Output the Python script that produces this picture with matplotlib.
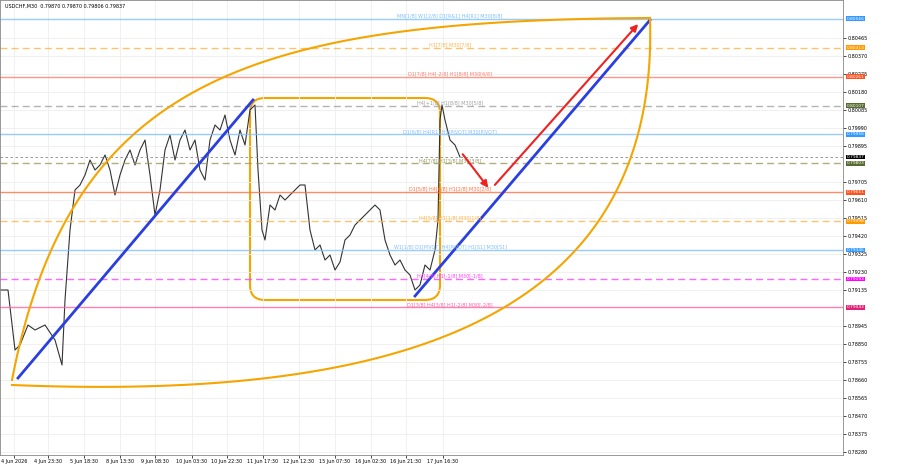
import numpy as np
import matplotlib.pyplot as plt
from matplotlib.patches import FancyBboxPatch
from math import comb

# price scale
P_TOP, P_PER_PX = 0.80666, 0.0000528
def px_to_price(y):
    return P_TOP - P_PER_PX * np.asarray(y, dtype=float)

def bezier(pts, n=100):
    pts = np.asarray(pts, dtype=float)
    t = np.linspace(0, 1, n)[:, None]
    k = len(pts) - 1
    return sum(comb(k, i) * (1 - t) ** (k - i) * t ** i * pts[i] for i in range(k + 1))

# price path (bar index, price level)
bar_x = [0, 8, 15, 20, 28, 35, 45, 55, 62, 65, 70, 75, 80, 85, 90, 95, 100, 105, 110, 115, 120, 125,
         130, 135, 140, 145, 150, 155, 160, 165, 170, 175, 180, 185, 190, 195, 200, 205, 210, 215, 220,
         225, 230, 235, 240, 245, 250, 255, 258, 262, 265, 270, 275, 280, 285, 290, 295, 300, 305, 310,
         315, 320, 325, 330, 335, 340, 345, 350, 355, 360, 365, 370, 375, 380, 385, 390, 395, 400, 405,
         410, 415, 420, 425, 430, 435, 438, 440, 442, 445, 450, 455, 460]
bar_px = [290, 290, 350, 345, 325, 330, 325, 340, 365, 300, 230, 190, 185, 175, 160, 170, 165, 155, 170,
          195, 175, 160, 150, 165, 150, 140, 175, 215, 190, 150, 135, 160, 140, 130, 150, 140, 170, 180,
          140, 125, 130, 115, 140, 155, 130, 145, 110, 105, 170, 230, 240, 205, 210, 195, 200, 195, 190,
          185, 185, 230, 250, 245, 260, 255, 270, 262, 240, 235, 225, 220, 215, 210, 205, 210, 240, 255,
          265, 260, 270, 275, 290, 285, 265, 270, 250, 220, 120, 105, 120, 140, 145, 157]
prices = px_to_price(bar_px)

level_prices = [0.80566, 0.80413, 0.80261, 0.80107, 0.79956, 0.79803, 0.79651, 0.79498, 0.79346, 0.79193, 0.79043]
level_labels = ["MN[1/8] W1[2/8] D1[R&1] H4[R1] M30[8/8]", "H1[7/8] M30[7/8]",
                "D1[7/8] H4[-2/8] H1[8/8] M30[6/8]", "H4[+1/8] H1[8/8] M30[5/8]",
                "D1[6/8] H4[R1] H1[PIVOT] M30[PIVOT]", "H4[7/8] H1[3/8] M30[3/8]",
                "D1[5/8] H4[6/8] H1[2/8] M30[2/8]", "H4[5/8] H1[1/8] M30[1/8]",
                "W1[1/8] D1[PIVOT] H4[PIVOT] H1[S1] M30[S1]", "H4[4/8] H1[-1/8] M30[-1/8]",
                "D1[3/8] H4[3/8] H1[-2/8] M30[-2/8]"]
level_colors = ["#7fbfff", "#ffb347", "#ff7f6e", "#a0a0a0", "#7fbfff", "#9a9a60",
                "#ff7040", "#ffb347", "#7fbfff", "#ff40ff", "#ff60a0"]
level_tags = ["#3399ff", "#ff9900", "#ff5020", "#556b2f", "#3399ff", "#556b2f",
              "#ff5020", "#ff9900", "#3399ff", "#ff00ff", "#e0207a"]
level_dash = [False, True, False, True, False, True, False, True, False, True, False]
last_price = 0.79837

tick_pos = [14, 48, 84, 120, 155, 192, 227, 263, 299, 335, 371, 406, 443]
tick_labels = ["4 Jun 2026", "4 Jun 23:30", "5 Jun 18:30", "8 Jun 13:30", "9 Jun 08:30", "10 Jun 03:30",
               "10 Jun 22:30", "11 Jun 17:30", "12 Jun 12:30", "15 Jun 07:30", "16 Jun 02:30",
               "16 Jun 21:30", "17 Jun 16:30"]
axis_prices = [0.80465, 0.80370, 0.80275, 0.80180, 0.80085, 0.79990, 0.79895, 0.79705, 0.79610, 0.79515,
               0.79420, 0.79325, 0.79230, 0.79135, 0.78945, 0.78850, 0.78755, 0.78660, 0.78565, 0.78470,
               0.78375, 0.78280]

fig = plt.figure(figsize=(9, 4.74), dpi=100)
ax = fig.add_axes([0.0, 19 / 474, 843 / 900, 455 / 474])
ax.set_xlim(0, 843)
ax.set_ylim(px_to_price(455), px_to_price(0))

ax.plot(bar_x, prices, color="#333333", lw=0.8)

tag_tr = ax.get_yaxis_transform()
for p, lab, c, tc, d in zip(level_prices, level_labels, level_colors, level_tags, level_dash):
    ax.axhline(p, color=c, lw=1, ls=(0, (5, 3)) if d else "-", alpha=0.8)
    ax.text(450, p + 0.00003, lab, fontsize=3.5, color=c, ha="center", va="bottom")
    ax.text(1.004, p, f"{p:.5f}", fontsize=3.2, color="white", va="center", ha="left",
            transform=tag_tr, clip_on=False,
            bbox=dict(boxstyle="square,pad=0.1", fc=tc, ec="none"))
ax.axhline(last_price, color="#888888", lw=0.6, ls=(0, (3, 3)))
ax.text(1.004, last_price, f"{last_price:.5f}", fontsize=3.2, color="white", va="center",
        transform=tag_tr, clip_on=False,
        bbox=dict(boxstyle="square,pad=0.1", fc="black", ec="none"))

# drawn shapes
trend1_x, trend1_px = [18, 253], [378, 100]
trend2_x, trend2_px = [415, 650], [296, 20]
ax.plot(trend1_x, px_to_price(trend1_px), color="#2a3fe0", lw=2)
ax.plot(trend2_x, px_to_price(trend2_px), color="#2a3fe0", lw=2)

arrow_x, arrow_px = [461, 490, 640], [152, 190, 22]
ax.annotate("", xy=(arrow_x[1], px_to_price(arrow_px[1])), xytext=(arrow_x[0], px_to_price(arrow_px[0])),
            arrowprops=dict(arrowstyle="-|>", color="#ee2222", lw=1.5))
ax.annotate("", xy=(arrow_x[2], px_to_price(arrow_px[2])), xytext=(arrow_x[1] + 3, px_to_price(arrow_px[1] - 3)),
            arrowprops=dict(arrowstyle="-|>", color="#ee2222", lw=1.5))

upper_ctrl = [(12, 380), (70, 80), (250, 20), (650, 18)]
lower_ctrl = [(12, 385), (380, 400), (660, 330), (650, 18)]
for ctrl in (upper_ctrl, lower_ctrl):
    c = bezier(ctrl)
    ax.plot(c[:, 0], px_to_price(c[:, 1]), color="#f5a500", lw=1.5)

box = FancyBboxPatch((250, px_to_price(300)), 190, px_to_price(98) - px_to_price(300),
                     boxstyle="round,pad=0,rounding_size=15", mutation_aspect=P_PER_PX,
                     fill=False, ec="#f5a500", lw=1.5)
ax.add_patch(box)

ax.set_xticks(tick_pos)
ax.set_xticklabels(tick_labels, fontsize=3.5)
ax.yaxis.tick_right()
ax.set_yticks(axis_prices)
ax.set_yticklabels([f"{v:.5f}" for v in axis_prices], fontsize=3.5)
ax.tick_params(length=2, width=0.5, pad=1)
ax.grid(True, color="#eeeeee", lw=0.6)
for s in ax.spines.values():
    s.set_color("#888888")
    s.set_linewidth(0.6)
ax.text(5, px_to_price(4), "USDCHF,M30  0.79870 0.79870 0.79806 0.79837", fontsize=3.5, va="top")

fig.savefig("out.png", dpi=100)
